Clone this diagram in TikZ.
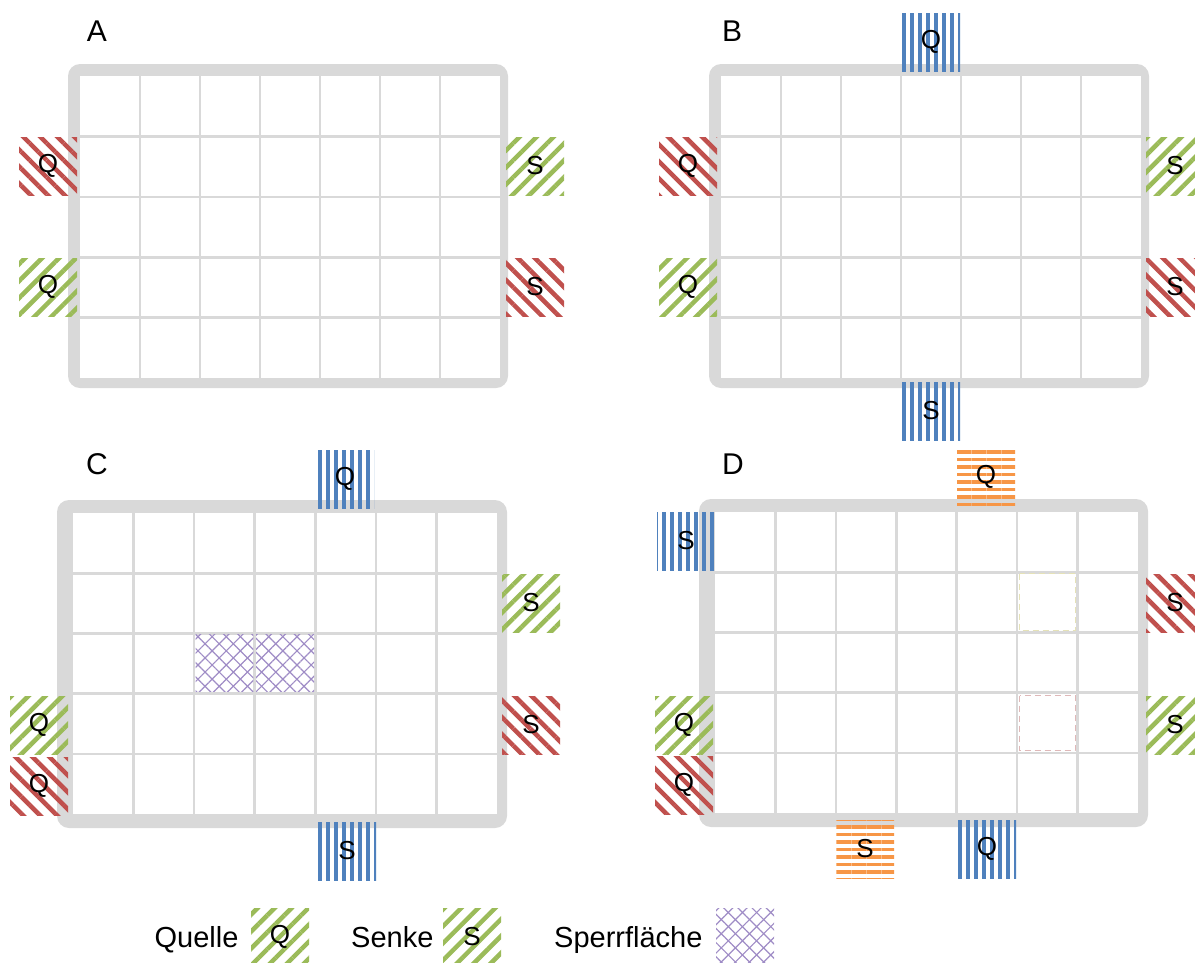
\documentclass[tikz,border=0pt]{standalone}
\usepackage{fontspec}
\setmainfont{Liberation Sans}
\usetikzlibrary{patterns.meta}
\definecolor{framegray}{HTML}{D9D9D9}
\definecolor{hatchred}{HTML}{C0504D}
\definecolor{hatchgreen}{HTML}{9BBB59}
\definecolor{hatchblue}{HTML}{4F81BD}
\definecolor{hatchorange}{HTML}{F79646}
\definecolor{hatchviolet}{HTML}{9F8CC6}

\begin{document}
\begin{tikzpicture}[x=1pt,y=-1pt,
    cellline/.style={draw=framegray,line width=2.6pt},
    port/.style={minimum size=58pt,inner sep=0pt,font=\fontsize{26}{26}\selectfont},
    redport/.style={port,pattern={Lines[angle=-45,distance=12pt,line width=4.5pt]},pattern color=hatchred},
    greenport/.style={port,pattern={Lines[angle=45,distance=12pt,line width=4.5pt]},pattern color=hatchgreen},
    blueport/.style={port,pattern={Lines[angle=90,distance=8pt,line width=3.5pt]},pattern color=hatchblue},
    orangeport/.style={port,pattern={Lines[angle=0,distance=7.5pt,line width=3.5pt]},pattern color=hatchorange},
    blocked/.style={pattern={Lines[angle=45,distance=10pt,line width=1.2pt]},pattern color=hatchviolet,
        postaction={pattern={Lines[angle=-45,distance=10pt,line width=1.2pt]},pattern color=hatchviolet}},
    faintcell/.style={dash pattern=on 6pt off 4pt,line width=0.8pt},
    panelname/.style={font=\fontsize{30}{30}\selectfont},
    legendtext/.style={font=\fontsize{29}{29}\selectfont,anchor=base east}]
    \clip (0,0) rectangle (1195,962);
    \fill[white] (0,0) rectangle (1195,962);
    % the four grids: outer frame, then inner cells
    \foreach \ouL/\ouT/\ouR/\ouB/\inL/\inT/\inR/\inB in
        {68/64/508/388/80/76/500/378, 709/64/1149/388/721/76/1141/378,
         57/500/507/828/73/513/497/814, 699/499/1148/827/715/512/1138/813}
    {
        \fill[framegray,rounded corners=12pt] (\ouL,\ouT) rectangle (\ouR,\ouB);
        \fill[white] (\inL,\inT) rectangle (\inR,\inB);
        \foreach \k in {1,...,6}
            \draw[cellline] ({\inL+(\inR-\inL)*\k/7},\inT) -- ({\inL+(\inR-\inL)*\k/7},\inB);
        \foreach \k in {1,...,4}
            \draw[cellline] (\inL,{\inT+(\inB-\inT)*\k/5}) -- (\inR,{\inT+(\inB-\inT)*\k/5});
    }
    \path[blocked] (195.5,634.5) rectangle (253.4,691.7);
    \path[blocked] (256,634.5) rectangle (314,691.7);
    \draw[faintcell,draw=yellow!20!framegray] (1019.5,573.5) rectangle (1075,630.5);
    \draw[faintcell,draw=red!15!framegray] (1019.5,695.5) rectangle (1075,750.5);

    \node[panelname] (nameA) at (97,31) {A};
    \node[panelname] (nameB) at (732,31) {B};
    \node[panelname] (nameC) at (97,464) {C};
    \node[panelname] (nameD) at (733,464) {D};

    \node[redport] (aQ1) at (48,166) {Q};
    \node[greenport] (aQ2) at (48,287) {Q};
    \node[greenport] (aS1) at (535,166) {S};
    \node[redport] (aS2) at (535,287) {S};

    \node[blueport] (bQ0) at (931,42) {Q};
    \node[redport] (bQ1) at (688,166) {Q};
    \node[greenport] (bQ2) at (688,287) {Q};
    \node[greenport] (bS1) at (1175,166) {S};
    \node[redport] (bS2) at (1175,287) {S};
    \node[blueport] (bS0) at (931,411) {S};

    \node[blueport] (cQ0) at (345,479) {Q};
    \node[greenport] (cS1) at (531,603) {S};
    \node[redport] (cS2) at (531,725) {S};
    \node[greenport] (cQ1) at (39,725) {Q};
    \node[redport] (cQ2) at (39,786) {Q};
    \node[blueport] (cS0) at (347,851) {S};

    \node[orangeport] (dQ0) at (986,477) {Q};
    \node[blueport] (dS0) at (686,541) {S};
    \node[redport] (dS1) at (1175,603) {S};
    \node[greenport] (dS2) at (1175,725) {S};
    \node[greenport] (dQ1) at (684,725) {Q};
    \node[redport] (dQ2) at (684,785) {Q};
    \node[orangeport] (dS3) at (865,849) {S};
    \node[blueport] (dQ3) at (987,849) {Q};

    \node[legendtext] (legQtext) at (242,947) {Quelle};
    \node[greenport] (legQ) at (280,937) {Q};
    \node[legendtext] (legStext) at (437,947) {Senke};
    \node[greenport] (legS) at (472,937) {S};
    \node[legendtext] (legXtext) at (706,947) {Sperrfläche};
    \node[port,blocked] (legX) at (745,937) {};
\end{tikzpicture}
\end{document}
